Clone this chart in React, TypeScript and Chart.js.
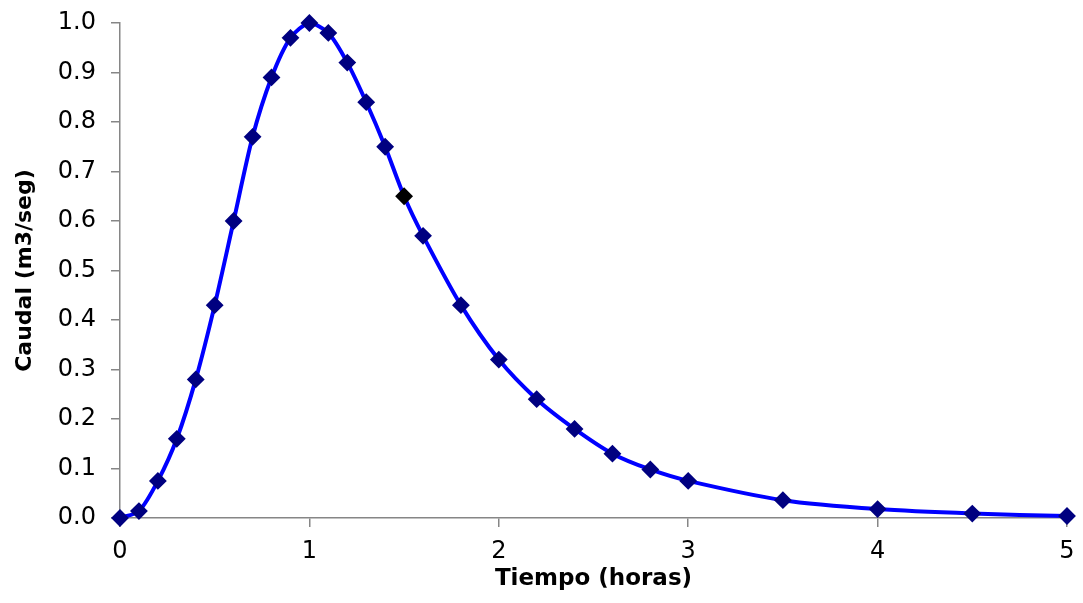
import React, { useEffect, useRef } from "react";
import { Chart, registerables } from "chart.js";

Chart.register(...registerables);

const tiempo = [0, 0.1, 0.2, 0.3, 0.4, 0.5, 0.6, 0.7, 0.8, 0.9, 1.0, 1.1, 1.2, 1.3, 1.4, 1.5, 1.6, 1.8, 2.0, 2.2, 2.4, 2.6, 2.8, 3.0, 3.5, 4.0, 4.5, 5.0];
const caudal = [0, 0.014, 0.075, 0.16, 0.28, 0.43, 0.6, 0.77, 0.89, 0.97, 1.0, 0.98, 0.92, 0.84, 0.75, 0.65, 0.57, 0.43, 0.32, 0.24, 0.18, 0.13, 0.098, 0.075, 0.036, 0.018, 0.009, 0.004];
const highlightTime = 1.5;
const xTicks = [0, 1, 2, 3, 4, 5];
const yTicks = [0, 0.1, 0.2, 0.3, 0.4, 0.5, 0.6, 0.7, 0.8, 0.9, 1.0];
const xTitle = "Tiempo (horas)";
const yTitle = "Caudal (m3/seg)";

const FONT = "'DejaVu Sans', 'Liberation Sans', Arial, sans-serif";
const AXIS = "#868686";

export default function App() {
  const ref = useRef<HTMLCanvasElement | null>(null);

  useEffect(() => {
    if (!ref.current) return;
    const points = tiempo.map((t, i) => ({ x: t, y: caudal[i] }));
    const markerColors = tiempo.map((t) => (t === highlightTime ? "#000000" : "#000080"));
    const chart = new Chart(ref.current, {
      type: "line",
      data: {
        datasets: [
          {
            data: points,
            borderColor: "#0000FF",
            borderWidth: 4,
            tension: 0.27,
            pointStyle: "rectRot",
            pointRadius: 7.5,
            pointBorderWidth: 2,
            pointBackgroundColor: markerColors,
            pointBorderColor: markerColors,
            clip: false,
          },
        ],
      },
      options: {
        animation: false,
        responsive: true,
        maintainAspectRatio: false,
        layout: { padding: { top: 23, right: 16, left: 0, bottom: 0 } },
        plugins: { legend: { display: false }, tooltip: { enabled: false } },
        scales: {
          x: {
            type: "linear",
            min: 0,
            max: 5,
            afterBuildTicks: (s: any) => {
              s.ticks = xTicks.map((v) => ({ value: v }));
            },
            afterFit: (s: any) => {
              s.height = 85;
              s.paddingLeft = 0;
              s.paddingRight = 0;
            },
            ticks: {
              color: "#000",
              font: { family: FONT, size: 24 },
              padding: 10,
              maxRotation: 0,
              callback: (v: any) => String(v),
            },
            grid: {
              display: true,
              drawOnChartArea: false,
              drawTicks: true,
              tickLength: 9,
              color: AXIS,
              lineWidth: 1.5,
            },
            border: { display: true, color: AXIS, width: 1.5 },
            title: {
              display: true,
              text: xTitle,
              color: "#000",
              font: { family: FONT, size: 23, weight: "bold" },
              padding: { top: 0, bottom: 10 },
            },
          },
          y: {
            type: "linear",
            min: 0,
            max: 1,
            afterBuildTicks: (s: any) => {
              s.ticks = yTicks.map((v) => ({ value: v }));
            },
            afterFit: (s: any) => {
              s.width = 120;
              s.paddingTop = 0;
              s.paddingBottom = 0;
            },
            ticks: {
              color: "#000",
              font: { family: FONT, size: 24 },
              padding: 15,
              callback: (v: any) => Number(v).toFixed(1),
            },
            grid: {
              display: true,
              drawOnChartArea: false,
              drawTicks: true,
              tickLength: 9,
              color: AXIS,
              lineWidth: 1.5,
            },
            border: { display: true, color: AXIS, width: 1.5 },
            title: {
              display: true,
              text: yTitle,
              color: "#000",
              font: { family: FONT, size: 22, weight: "bold" },
              padding: { top: 12, bottom: 0 },
            },
          },
        },
      },
    });
    return () => chart.destroy();
  }, []);

  return (
    <div style={{ position: "absolute", left: 0, top: 0, width: 1083, height: 603, background: "#fff" }}>
      <canvas ref={ref} />
    </div>
  );
}
